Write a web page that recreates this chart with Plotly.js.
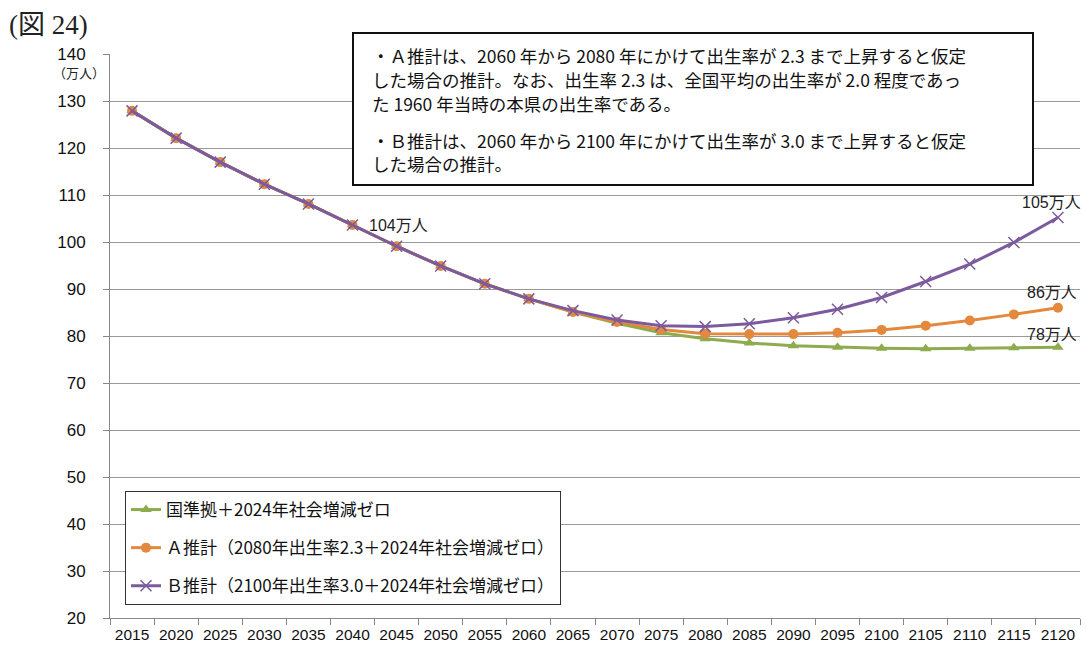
<!DOCTYPE html>
<html>
<head>
<meta charset="utf-8">
<script src="https://cdn.plot.ly/plotly-3.0.1.min.js"></script>
<style>html,body{margin:0;padding:0;background:#fff;}#chart{width:1086px;height:646px;}</style>
</head>
<body>
<div id="chart"></div>
<script>
const years = ["2015","2020","2025","2030","2035","2040","2045","2050","2055","2060","2065","2070","2075","2080","2085","2090","2095","2100","2105","2110","2115","2120"];
const seriesNames = ["国準拠＋2024年社会増減ゼロ", "Ａ推計（2080年出生率2.3＋2024年社会増減ゼロ）", "Ｂ推計（2100年出生率3.0＋2024年社会増減ゼロ）"];
const baseValues = [127.9,122.1,117.0,112.3,108.1,103.6,99.1,94.9,91.1,87.9,85.1,82.7,80.7,79.4,78.5,77.9,77.6,77.4,77.3,77.4,77.5,77.6];
const aValues    = [127.9,122.1,117.0,112.3,108.1,103.6,99.1,94.9,91.1,87.9,85.1,83.0,81.4,80.5,80.4,80.4,80.7,81.3,82.2,83.3,84.6,86.0];
const bValues    = [127.9,122.1,117.0,112.3,108.1,103.6,99.1,94.9,91.1,87.9,85.4,83.4,82.2,82.0,82.6,83.9,85.7,88.2,91.6,95.3,99.9,105.2];
const pointLabels = [
  {year: "2040", value: 103.6, text: "104万人", side: "right"},
  {year: "2120", value: 105.2, text: "105万人", side: "top", dy: 15},
  {year: "2120", value: 86.0, text: "86万人", side: "top", dy: 15},
  {year: "2120", value: 77.6, text: "78万人", side: "top", dy: 13}
];
const noteLines = [
  "・Ａ推計は、2060 年から 2080 年にかけて出生率が 2.3 まで上昇すると仮定",
  "した場合の推計。なお、出生率 2.3 は、全国平均の出生率が 2.0 程度であっ",
  "た 1960 年当時の本県の出生率である。",
  "",
  "・Ｂ推計は、2060 年から 2100 年にかけて出生率が 3.0 まで上昇すると仮定",
  "した場合の推計。"
];

const cjk = '"Noto Sans CJK JP", "Liberation Sans", Arial, sans-serif';
const num = '"Liberation Sans", Arial, "Noto Sans CJK JP", sans-serif';

const green = '#8eab4e', orange = '#e3883c', purple = '#7b5b9d';

const traces = [
  {x: years, y: baseValues, name: seriesNames[0], type: 'scatter', mode: 'lines+markers', legendgroup: 'g1',
   line: {color: green, width: 3}, marker: {symbol: 'triangle-up', size: 10, color: green}},
  {x: years, y: aValues, name: seriesNames[1], type: 'scatter', mode: 'lines+markers', legendgroup: 'g2',
   line: {color: orange, width: 3}, marker: {symbol: 'circle', size: 10, color: orange}},
  {x: years, y: bValues, name: seriesNames[2], type: 'scatter', mode: 'lines+markers', legendgroup: 'g3',
   line: {color: purple, width: 3}, marker: {symbol: 'x-thin', size: 11, color: purple, line: {color: purple, width: 1.5}}}
];

const L = 110, R = 1080, T = 54, B = 618;
const W = R - L, H = B - T;
const px = v => (v - L) / W;
const py = v => (B - v) / H;

const annotations = [
  {xref: 'paper', yref: 'paper', x: px(7), y: py(25), xanchor: 'left', yanchor: 'middle', showarrow: false,
   text: '(図 24)', font: {family: '"Liberation Serif", "DejaVu Serif", "Noto Sans CJK JP", serif', size: 27, color: '#222'}},
  {xref: 'paper', yref: 'paper', x: px(79), y: py(72), xanchor: 'center', yanchor: 'middle', showarrow: false, borderpad: 0,
   text: '（万人）', font: {family: cjk, size: 13, color: '#222'}}
];
const lineY = [56, 79.5, 103, 120, 140, 163.5];
noteLines.forEach((t, i) => {
  if (!t) return;
  annotations.push({xref: 'paper', yref: 'paper', x: px(371), y: py(lineY[i]), xanchor: 'left', yanchor: 'middle',
    showarrow: false, align: 'left', borderpad: 0, text: t, font: {family: cjk, size: 17.5, color: '#111'}});
});
pointLabels.forEach(p => {
  const idx = years.indexOf(p.year);
  if (p.side === 'right') {
    annotations.push({x: idx, y: p.value, xref: 'x', yref: 'y', showarrow: false, xanchor: 'left', yanchor: 'middle',
      xshift: 14, text: p.text, font: {family: num, size: 16, color: '#222'}});
  } else {
    annotations.push({x: idx, y: p.value, xref: 'x', yref: 'y', showarrow: false, xanchor: 'center', yanchor: 'middle',
      xshift: -6, yshift: p.dy, text: p.text, font: {family: num, size: 16, color: '#222'}});
  }
});

const layout = {
  width: 1086, height: 646,
  margin: {l: L, r: 1086 - R, t: T, b: 646 - B},
  paper_bgcolor: '#fff', plot_bgcolor: '#fff',
  showlegend: true,
  legend: {x: px(125), y: py(491), xanchor: 'left', yanchor: 'top', bgcolor: '#fff', bordercolor: '#333', borderwidth: 1,
           font: {family: cjk, size: 17, color: '#111'}, tracegroupgap: 13, itemwidth: 30},
  xaxis: {type: 'category', range: [-0.5, 21.5], tickson: 'boundaries', ticks: 'outside', ticklen: 6, tickcolor: '#888',
          showline: true, linecolor: '#888', linewidth: 1, showgrid: false, zeroline: false, fixedrange: true,
          tickangle: 0, tickfont: {family: num, size: 15.5, color: '#111'}, ticklabelstandoff: 2},
  yaxis: {range: [20, 140], dtick: 10, tick0: 20, ticks: 'outside', ticklen: 6, tickcolor: '#888',
          showline: true, linecolor: '#888', linewidth: 1, showgrid: true, gridcolor: '#999', gridwidth: 1,
          zeroline: false, tickfont: {family: num, size: 17, color: '#111'}, ticklabelstandoff: 14},
  shapes: [
    {type: 'rect', xref: 'paper', yref: 'paper', x0: px(353), x1: px(1033), y0: py(185), y1: py(33),
     line: {color: '#111', width: 2}, fillcolor: '#fff', layer: 'above'}
  ],
  annotations: annotations
};

Plotly.newPlot('chart', traces, layout, {displayModeBar: false, staticPlot: true});
</script>
</body>
</html>
